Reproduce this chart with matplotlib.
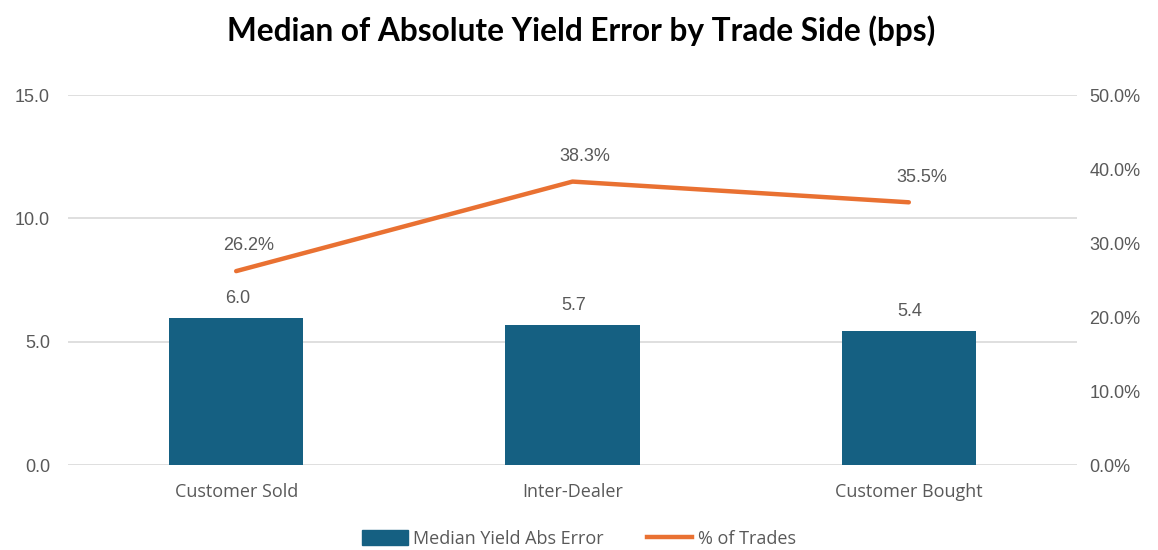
import matplotlib
matplotlib.use("Agg")
import matplotlib.pyplot as plt
from matplotlib.ticker import FuncFormatter, MultipleLocator
from matplotlib.lines import Line2D
from matplotlib.patches import Patch

categories = ["Customer Sold", "Inter-Dealer", "Customer Bought"]
median_err = [5.95, 5.68, 5.43]
median_labels = ["6.0", "5.7", "5.4"]
pct_trades = [26.2, 38.3, 35.5]

BLUE = "#156082"
ORANGE = "#E97132"
GREY = "#595959"
NUM_FONT = ["Liberation Sans", "DejaVu Sans"]
TXT_FONT = ["Open Sans", "DejaVu Sans"]
TITLE_FONT = ["Lato", "DejaVu Sans"]

fig = plt.figure(figsize=(11.58, 5.5), dpi=100)
ax = fig.add_axes([68/1158, 85/550, (1077-68)/1158, 370/550])
ax2 = ax.twinx()

x = list(range(len(categories)))
ax.bar(x, median_err, width=0.4, color=BLUE, zorder=3)
ax.set_xlim(-0.5, 2.5)
ax.set_ylim(0, 15)
ax.yaxis.set_major_locator(MultipleLocator(5))
ax.yaxis.set_major_formatter(FuncFormatter(lambda v, p: f"{v:.1f}"))
ax.grid(axis="y", color="#D9D9D9", linewidth=1.2, zorder=0)
ax.set_axisbelow(True)

ax2.plot(x, pct_trades, color=ORANGE, linewidth=3.2, solid_capstyle="round", zorder=4)
ax2.set_ylim(0, 50)
ax2.yaxis.set_major_locator(MultipleLocator(10))
ax2.yaxis.set_major_formatter(FuncFormatter(lambda v, p: f"{v:.1f}%"))

for a in (ax, ax2):
    for s in a.spines.values():
        s.set_visible(False)
    a.tick_params(length=0, colors=GREY, labelsize=13)

for lab in ax.get_yticklabels() + ax2.get_yticklabels():
    lab.set_family(NUM_FONT)
ax.tick_params(axis="y", pad=13)
ax2.tick_params(axis="y", pad=9)
ax.set_xticks(x)
ax.set_xticklabels(categories, fontsize=13, family=TXT_FONT, color=GREY)
ax.tick_params(axis="x", pad=13)

for xi, v, lab in zip(x, median_err, median_labels):
    ax.annotate(lab, (xi, v), xytext=(1, 8), textcoords="offset points",
                ha="center", va="bottom", fontsize=13, color=GREY, family=NUM_FONT)
for xi, v in zip(x, pct_trades):
    ax2.annotate(f"{v:.1f}%", (xi, v), xytext=(9, 12), textcoords="offset points",
                 ha="center", va="bottom", fontsize=13, color=GREY, family=NUM_FONT)

fig.suptitle("Median of Absolute Yield Error by Trade Side (bps)", x=0.502, y=0.972,
             fontsize=22.8, fontweight="bold", family=TITLE_FONT, color="black")

handles = [Patch(facecolor=BLUE, edgecolor=BLUE),
           Line2D([0], [0], color=ORANGE, linewidth=3.2)]
fig.legend(handles, ["Median Yield Abs Error", "% of Trades"], loc="center",
           bbox_to_anchor=(0.5, 11/550), ncol=2, frameon=False,
           prop={"family": TXT_FONT, "size": 13}, labelcolor=GREY,
           handlelength=2.5, handleheight=0.9, handletextpad=0.3, columnspacing=2.4)

fig.savefig("out.png", dpi=100)
